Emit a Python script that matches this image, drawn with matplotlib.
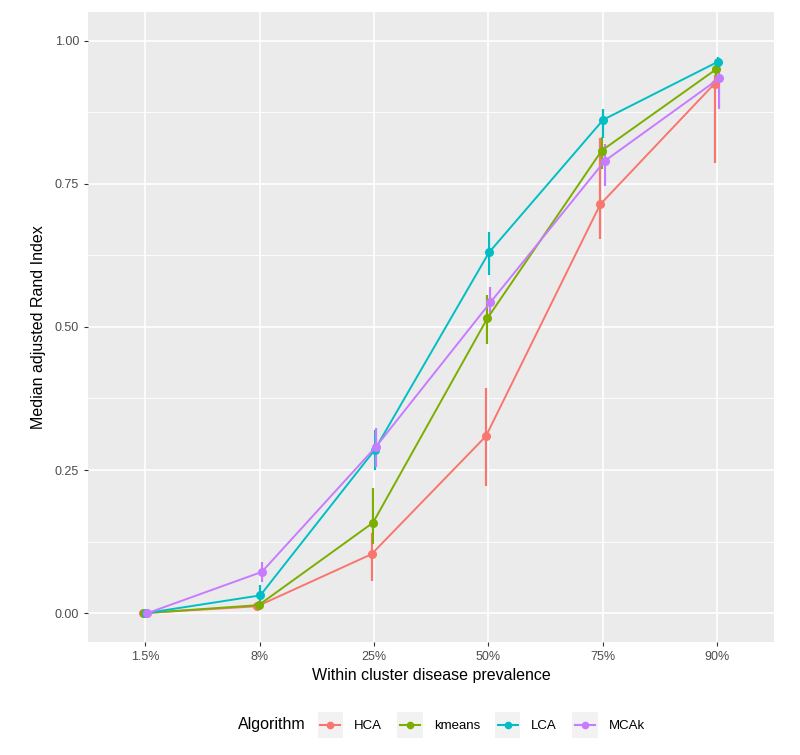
import matplotlib
matplotlib.use("Agg")
import matplotlib.pyplot as plt
from matplotlib.patches import Rectangle
from matplotlib.lines import Line2D
from matplotlib.legend_handler import HandlerBase
import numpy as np

plt.rcParams['font.family'] = ['Liberation Sans', 'DejaVu Sans']

categories = ["1.5%", "8%", "25%", "50%", "75%", "90%"]
algorithms = ["HCA", "kmeans", "LCA", "MCAk"]
colors = ["#F8766D", "#7CAE00", "#00BFC4", "#C77CFF"]

# median ARI per prevalence level
hca = [0.0, 0.012, 0.103, 0.309, 0.714, 0.925]
kmeans = [0.0, 0.014, 0.158, 0.515, 0.808, 0.950]
lca = [0.0, 0.031, 0.285, 0.630, 0.862, 0.963]
mcak = [0.0, 0.072, 0.291, 0.543, 0.790, 0.934]

# lower / upper ends of the error bars
hca_lo = [0.0, 0.005, 0.057, 0.222, 0.654, 0.787]
hca_hi = [0.002, 0.020, 0.140, 0.394, 0.830, 0.940]
kmeans_lo = [0.0, 0.006, 0.120, 0.471, 0.775, 0.930]
kmeans_hi = [0.002, 0.022, 0.218, 0.555, 0.832, 0.958]
lca_lo = [0.0, 0.015, 0.250, 0.590, 0.830, 0.950]
lca_hi = [0.002, 0.050, 0.320, 0.665, 0.880, 0.972]
mcak_lo = [0.0, 0.055, 0.255, 0.520, 0.747, 0.881]
mcak_hi = [0.002, 0.089, 0.323, 0.570, 0.820, 0.950]

medians = [hca, kmeans, lca, mcak]
lows = [hca_lo, kmeans_lo, lca_lo, mcak_lo]
highs = [hca_hi, kmeans_hi, lca_hi, mcak_hi]
dodge = [-0.02, -0.007, 0.007, 0.02]


class KeyHandler(HandlerBase):
    # grey key box with a line + point on top, like a ggplot legend key
    def create_artists(self, legend, orig_handle, xdescent, ydescent,
                       width, height, fontsize, trans):
        side = height
        x0 = -xdescent + (width - side) / 2
        y0 = -ydescent
        box = Rectangle((x0, y0), side, side, facecolor="#F2F2F2",
                        edgecolor="none", transform=trans)
        ym = y0 + side / 2
        ln = Line2D([x0 + 2, x0 + side - 2], [ym, ym], color=orig_handle.get_color(),
                    lw=1.5, transform=trans)
        pt = Line2D([x0 + side / 2], [ym], color=orig_handle.get_color(),
                    marker="o", ms=4.5, lw=0, transform=trans)
        return [box, ln, pt]


fig = plt.figure(figsize=(8, 7.55), dpi=100)
ax = fig.add_axes([0.11, 0.150, 0.8575, 0.834])
ax.set_facecolor("#EBEBEB")

x = np.arange(len(categories))
lines = []
for med, lo, hi, col, d, name in zip(medians, lows, highs, colors, dodge, algorithms):
    xs = x + d
    ax.vlines(xs, lo, hi, color=col, lw=1.6, zorder=3)
    l, = ax.plot(xs, med, color=col, lw=1.4, marker="o", ms=5.5, zorder=4, label=name)
    lines.append(l)

ax.set_xlim(-0.5, len(categories) - 0.5)
ax.set_ylim(-0.05, 1.05)
ax.set_xticks(x)
ax.set_xticklabels(categories)
ax.set_yticks([0, 0.25, 0.5, 0.75, 1.0])
ax.set_yticklabels(["0.00", "0.25", "0.50", "0.75", "1.00"])
ax.set_yticks([0.125, 0.375, 0.625, 0.875], minor=True)
ax.grid(True, which="major", color="white", lw=1.2, zorder=0)
ax.grid(True, which="minor", axis="y", color="white", lw=0.6, zorder=0)
ax.set_axisbelow(True)
for s in ax.spines.values():
    s.set_visible(False)
ax.tick_params(axis="both", which="major", length=3, color="#333333",
               labelsize=9, labelcolor="#4D4D4D")
ax.tick_params(axis="both", which="minor", length=0)
ax.set_xlabel("Within cluster disease prevalence", fontsize=11.5, labelpad=4)
ax.set_ylabel("Median adjusted Rand Index", fontsize=11.5, labelpad=6)

fig.text(0.298, 0.040, "Algorithm", fontsize=11.5, ha="left", va="center")
fig.legend(lines, algorithms, handler_map={Line2D: KeyHandler()},
           loc="center left", bbox_to_anchor=(0.385, 0.040), ncol=4, frameon=False,
           fontsize=9.5, handlelength=2.6, handleheight=2.6, columnspacing=0.8,
           handletextpad=0.5, borderaxespad=0)

fig.savefig("out.png", dpi=100)
